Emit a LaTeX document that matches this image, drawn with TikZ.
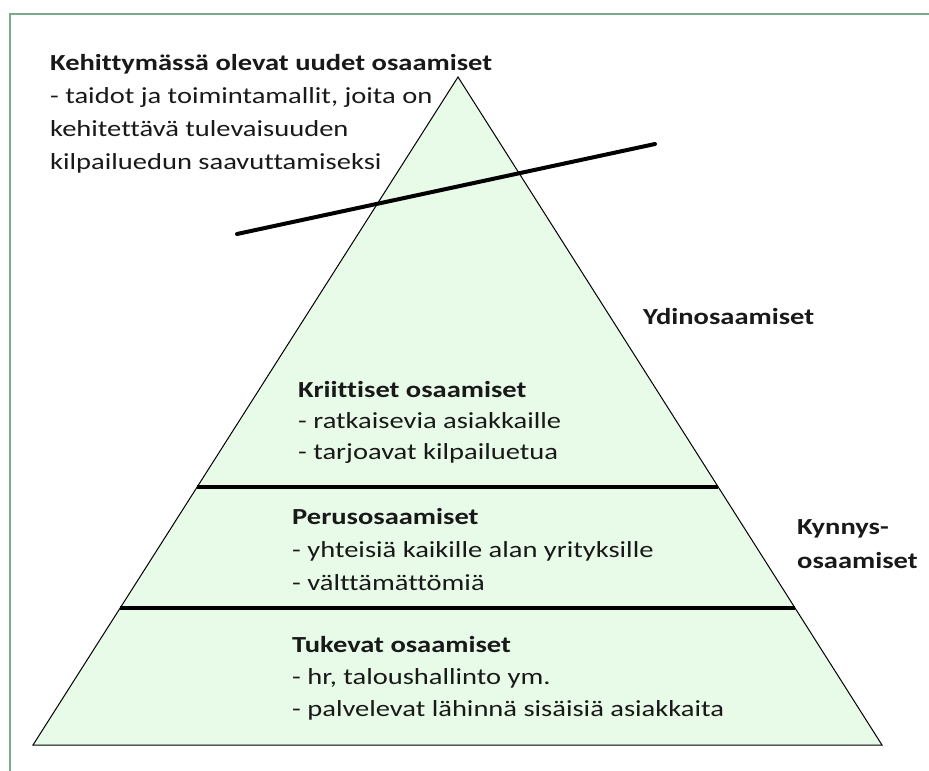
\documentclass[tikz,border=0pt]{standalone}
\usepackage{fontspec}
\setmainfont{Carlito}[FakeStretch=1.24, Ligatures=NoCommon]
\usetikzlibrary{calc}
\definecolor{pyrfill}{RGB}{232,250,232}
\definecolor{framegreen}{RGB}{120,170,140}
\definecolor{inktext}{RGB}{25,25,25}
\tikzset{
  txtblock/.style={anchor=north west, inner sep=0pt, align=left, text=inktext,
    font=\fontsize{23}{32}\selectfont},
  sidelabel/.style={anchor=north west, inner sep=0pt, align=left, text=inktext,
    font=\fontsize{23}{34}\selectfont\bfseries},
  bandline/.style={line width=4pt, black},
  outline/.style={fill=pyrfill, draw=black, line width=1pt, line join=miter},
  framebox/.style={draw=framegreen, line width=2pt}
}
\begin{document}
\begin{tikzpicture}[x=1pt,y=-1pt]
  \useasboundingbox (0,0) rectangle (929,771);
  \fill[white] (0,0) rectangle (929,771);
  % outer frame (only top and left sides fall inside the page)
  \coordinate (fbl) at (10,771);
  \coordinate (ftl) at (10,14);
  \coordinate (ftr) at (929,14);
  \draw[framebox] (fbl) -- (ftl) -- (ftr);

  % pyramid
  \coordinate (apex) at (458,77);
  \coordinate (bl) at (33,745);
  \coordinate (br) at (882,745);
  \path[outline] (apex) -- (bl) -- (br) -- cycle;

  % band separators
  \coordinate (b1l) at ($(apex)!0.6138!(bl)$);
  \coordinate (b1r) at ($(apex)!0.6138!(br)$);
  \coordinate (b2l) at ($(apex)!0.7949!(bl)$);
  \coordinate (b2r) at ($(apex)!0.7949!(br)$);
  \draw[bandline] (b1l) -- (b1r);
  \draw[bandline] (b2l) -- (b2r);

  % slanted line through the top
  \coordinate (s1) at (237,234);
  \coordinate (s2) at (655,144);
  \draw[bandline, line cap=round] (s1) -- (s2);

  % texts
  \node[txtblock, font=\fontsize{23}{33}\selectfont] (emerging) at (50,54)
    {\textbf{Kehittymässä olevat uudet osaamiset}\\
     - taidot ja toimintamallit, joita on\\
     kehitettävä tulevaisuuden\\
     kilpailuedun saavuttamiseksi};
  \node[anchor=base west, inner sep=0pt, text=inktext,
        font=\fontsize{23}{32}\selectfont\bfseries] (core) at (643,324) {Ydinosaamiset};
  \node[txtblock, font=\fontsize{23}{31}\selectfont] (critical) at (298,381)
    {\textbf{Kriittiset osaamiset}\\
     - ratkaisevia asiakkaille\\
     - tarjoavat kilpailuetua};
  \node[txtblock, font=\fontsize{23}{33}\selectfont] (basic) at (292,508)
    {\textbf{Perusosaamiset}\\
     - yhteisiä kaikille alan yrityksille\\
     - välttämättömiä};
  \node[sidelabel] (threshold) at (797,519)
    {Kynnys-\\osaamiset};
  \node[txtblock] (support) at (292,636)
    {\textbf{Tukevat osaamiset}\\
     - hr, taloushallinto ym.\\
     - palvelevat lähinnä sisäisiä asiakkaita};
\end{tikzpicture}
\end{document}
